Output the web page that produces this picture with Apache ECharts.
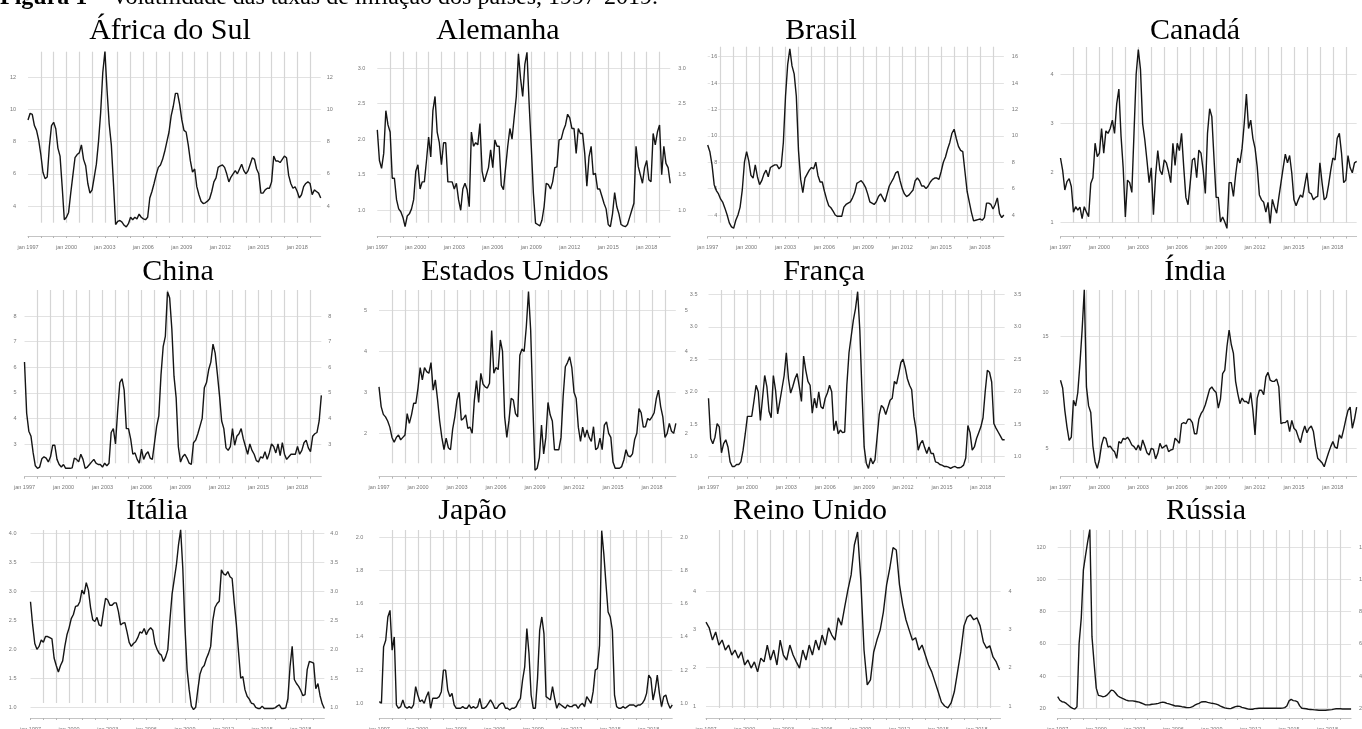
<!DOCTYPE html>
<html><head><meta charset="utf-8">
<script src="https://cdn.jsdelivr.net/npm/echarts@6/dist/echarts.min.js"></script>
<style>html,body{margin:0;padding:0;background:#fff;overflow:hidden}#c{width:1362px;height:729px}</style>
</head><body><div id="c"></div>
<script>
// ---------- DATA ----------
const startYear = 1997;
const monthStep = 2;            // one value every two months, from Jan 1997
const xEnd = 1997 + 274 / 12;   // Nov 2019
const yearLabels = [1997, 2000, 2003, 2006, 2009, 2012, 2015, 2018];
const countries = ['África do Sul','Alemanha','Brasil','Canadá','China','Estados Unidos','França','Índia','Itália','Japão','Reino Unido','Rússia'];
const figureTitleBold = 'Figura 1';
const figureTitleRest = ' – Volatilidade das taxas de inflação dos países, 1997-2019.';

const ticksAfricaDoSul = [4,6,8,10,12];
const ticksAlemanha = [1.0,1.5,2.0,2.5,3.0];
const ticksBrasil = [4,6,8,10,12,14,16];
const ticksCanada = [1,2,3,4];
const ticksChina = [3,4,5,6,7,8];
const ticksEstadosUnidos = [2,3,4,5];
const ticksFranca = [1.0,1.5,2.0,2.5,3.0,3.5];
const ticksIndia = [5,10,15];
const ticksItalia = [1.0,1.5,2.0,2.5,3.0,3.5,4.0];
const ticksJapao = [1.0,1.2,1.4,1.6,1.8,2.0];
const ticksReinoUnido = [1,2,3,4];
const ticksRussia = [20,40,60,80,100,120];

const africaDoSul = [9.35,9.76,9.7,9.0,8.7,8.1,7.2,6.1,5.7,5.8,7.7,9.0,9.2,8.8,7.6,7.1,5.2,3.15,3.3,3.6,4.8,5.9,7.0,7.2,7.3,7.8,6.9,6.5,5.4,4.8,5.0,5.8,6.6,8.0,9.8,12.3,13.6,11.2,9.1,7.8,5.4,2.85,3.05,3.1,3.0,2.8,2.7,2.9,3.3,3.15,3.3,3.2,3.5,3.3,3.2,3.15,3.3,4.5,4.9,5.4,5.95,6.4,6.55,6.9,7.4,8.0,8.6,9.6,10.2,11.0,11.0,10.3,9.35,8.7,8.6,7.8,6.8,6.1,6.3,5.2,4.7,4.3,4.15,4.2,4.3,4.45,4.9,5.5,5.75,6.4,6.5,6.55,6.4,6.0,5.5,5.8,6.0,6.2,6.0,6.3,6.6,6.2,6.0,6.2,6.6,7.0,6.9,6.3,6.0,4.8,4.8,5.0,5.1,5.1,5.5,7.1,6.8,6.8,6.7,6.9,7.1,7.0,5.9,5.4,5.1,5.2,4.9,4.5,4.7,5.2,5.4,5.5,5.4,4.7,5.0,4.9,4.8,4.5];
const alemanha = [2.13,1.7,1.59,1.8,2.4,2.2,2.1,1.45,1.45,1.15,1.02,0.98,0.9,0.77,0.92,0.95,1.02,1.15,1.55,1.64,1.3,1.4,1.4,1.7,2.03,1.75,2.4,2.6,2.1,1.95,1.64,1.95,1.95,1.4,1.4,1.4,1.3,1.38,1.15,1.0,1.3,1.38,1.29,1.05,2.1,1.9,1.95,1.92,2.22,1.55,1.4,1.5,1.6,1.85,1.6,1.99,1.9,1.9,1.35,1.29,1.6,1.9,2.15,2.0,2.3,2.6,3.2,2.85,2.6,3.05,3.22,2.5,1.9,1.24,0.82,0.8,0.78,0.86,1.05,1.38,1.36,1.3,1.4,1.6,1.61,1.99,2.0,2.12,2.2,2.35,2.3,2.15,2.15,1.8,2.15,2.08,2.08,1.8,1.34,1.75,1.9,1.5,1.52,1.3,1.3,1.2,1.1,1.02,0.8,0.77,0.95,1.25,1.05,0.95,0.8,0.78,0.77,0.8,0.9,1.0,1.1,1.9,1.62,1.5,1.38,1.6,1.7,1.43,1.4,2.08,1.92,2.1,2.2,1.5,1.9,1.66,1.6,1.38];
const brasil = [9.3,8.8,7.8,6.3,5.85,5.6,5.2,4.95,4.5,4.0,3.4,3.1,3.0,3.6,4.0,4.6,5.9,8.0,8.8,8.1,7.0,6.8,7.8,6.9,6.3,6.6,7.1,7.4,6.9,7.6,7.7,7.8,7.8,7.5,7.7,9.5,13.0,15.4,16.6,15.3,14.7,13.0,8.9,6.7,5.7,6.8,7.1,7.4,7.6,7.5,8.0,7.0,6.5,6.5,5.8,5.2,4.7,4.55,4.3,4.0,3.9,3.9,3.9,4.6,4.8,4.9,5.0,5.3,5.7,6.4,6.5,6.6,6.4,6.1,5.6,5.0,4.9,4.8,5.0,5.4,5.6,5.3,5.0,5.6,6.2,6.5,6.8,7.2,7.3,6.6,6.0,5.6,5.4,5.5,5.7,5.9,6.6,6.8,6.6,6.2,6.2,6.0,6.2,6.5,6.7,6.8,6.8,6.7,7.3,8.0,8.4,9.0,9.5,10.2,10.5,9.8,9.2,8.9,8.8,7.3,5.8,5.0,4.2,3.55,3.6,3.65,3.7,3.6,3.8,4.9,4.9,4.8,4.45,4.8,5.3,4.1,3.8,4.0];
const canada = [2.3,2.05,1.65,1.82,1.88,1.72,1.2,1.31,1.24,1.3,1.07,1.31,1.2,1.11,1.78,1.9,2.6,2.33,2.4,2.9,2.4,2.85,2.8,2.9,3.07,2.8,3.4,3.7,2.75,2.1,1.1,1.85,1.8,1.6,2.8,4.0,4.5,4.1,3.0,2.67,2.25,1.8,2.1,1.15,1.95,2.45,2.05,1.96,2.26,2.2,2.02,1.8,2.6,2.15,2.6,2.45,2.8,2.12,1.5,1.35,1.79,2.26,2.3,1.9,2.46,2.4,2.05,1.58,2.8,3.3,3.14,2.3,1.5,1.5,1.0,1.1,1.0,0.87,1.8,1.8,1.52,1.95,2.3,2.2,2.5,3.0,3.6,2.9,3.07,2.7,2.5,2.12,1.55,1.45,1.4,1.2,1.4,0.97,1.46,1.3,1.18,1.5,1.8,2.1,2.38,2.2,2.35,1.99,1.45,1.33,1.45,1.55,1.5,1.75,2.0,1.6,1.57,1.45,1.5,1.52,2.2,1.8,1.45,1.5,1.75,2.05,2.3,2.26,2.7,2.8,2.4,1.8,1.85,2.35,2.1,2.0,2.2,2.23];
const china = [6.2,4.2,3.5,3.3,2.65,2.15,2.05,2.1,2.42,2.5,2.45,2.3,2.5,2.95,2.95,2.4,2.2,2.1,2.2,2.05,2.05,2.05,2.07,2.45,2.4,2.3,2.6,2.4,2.05,2.1,2.2,2.3,2.4,2.25,2.2,2.2,2.1,2.25,2.15,2.25,3.45,3.6,3.0,4.3,5.4,5.55,5.1,3.6,3.6,3.2,2.6,2.65,2.4,2.25,2.8,2.4,2.6,2.7,2.45,2.4,3.05,3.7,4.1,5.7,6.8,7.2,8.95,8.7,7.5,5.65,4.8,2.9,2.3,2.5,2.6,2.45,2.25,2.2,3.05,3.15,3.4,3.7,4.0,5.2,5.4,5.9,6.2,6.9,6.55,5.75,4.9,3.9,3.6,2.85,2.75,2.9,3.6,2.95,3.3,3.4,3.6,3.2,2.9,2.6,3.0,2.75,2.6,2.35,2.3,2.5,2.45,2.7,2.4,2.65,3.0,2.9,2.65,3.0,2.55,3.05,2.6,2.4,2.5,2.6,2.6,2.6,2.9,2.6,2.75,3.05,3.15,2.85,2.7,3.3,3.4,3.45,3.9,4.9];
const estadosUnidos = [3.13,2.65,2.46,2.4,2.3,2.15,1.9,1.78,1.9,1.96,1.84,1.9,1.96,2.48,2.24,2.45,2.73,2.73,3.1,3.6,3.3,3.6,3.5,3.46,3.72,3.05,3.3,2.83,2.3,1.9,1.6,1.88,1.65,1.6,2.1,2.4,2.81,3.0,2.32,2.36,2.45,2.12,2.15,2.0,2.8,3.28,2.75,3.46,3.2,3.13,3.1,3.22,4.5,3.46,3.6,3.55,4.27,4.0,2.4,1.9,2.32,2.85,2.81,2.48,2.4,3.9,4.05,3.99,4.6,5.45,4.51,2.7,1.1,1.15,1.4,2.2,1.5,1.9,2.75,2.45,2.3,1.6,1.6,1.6,1.9,2.9,3.62,3.72,3.86,3.6,3.0,2.85,2.15,1.8,2.15,1.9,2.08,1.9,1.8,2.16,1.6,1.65,1.88,1.6,2.2,2.28,2.0,1.9,1.3,1.15,1.15,1.15,1.19,1.35,1.6,1.45,1.43,1.5,1.85,2.0,2.6,2.5,2.15,2.16,2.36,2.32,2.4,2.5,2.85,3.05,2.65,2.4,1.9,2.0,2.24,2.05,2.0,2.24];
const franca = [1.9,1.28,1.2,1.3,1.51,1.46,1.06,1.2,1.26,1.15,0.92,0.85,0.85,0.88,0.88,0.92,1.1,1.35,1.62,1.62,1.62,1.85,2.1,2.0,1.56,1.9,2.25,2.08,1.7,1.6,2.25,2.03,1.66,1.85,2.05,2.25,2.6,2.2,1.98,2.08,2.2,2.28,2.08,1.85,2.55,2.33,2.16,2.1,1.67,1.9,1.75,2.0,1.77,1.74,1.9,1.98,2.1,2.0,1.4,1.55,1.35,1.41,1.37,1.38,2.1,2.6,2.85,3.1,3.28,3.54,2.95,2.0,1.15,0.9,0.82,0.98,0.89,0.95,1.3,1.65,1.79,1.75,1.65,1.76,1.87,1.9,2.16,2.12,2.28,2.45,2.5,2.37,2.2,2.1,2.03,1.62,1.42,1.1,1.2,1.25,1.14,1.05,1.15,1.05,1.05,0.92,0.91,0.88,0.87,0.85,0.85,0.84,0.82,0.84,0.85,0.83,0.83,0.84,0.87,0.98,1.48,1.37,1.1,1.15,1.28,1.37,1.46,1.6,2.0,2.33,2.3,2.15,1.51,1.44,1.38,1.32,1.26,1.26];
const india = [11.1,10.4,8.4,6.9,5.7,6.0,9.3,8.8,10.0,12.6,15.6,19.2,10.5,8.8,8.2,5.2,3.8,3.2,4.0,5.3,6.0,5.9,5.1,5.2,4.9,4.7,4.1,5.6,5.45,5.9,5.8,6.0,5.7,5.3,5.15,4.85,5.3,4.8,5.75,5.2,4.6,4.4,5.0,4.9,4.05,4.55,5.45,5.0,5.15,5.3,4.7,4.85,4.9,5.9,5.7,5.45,7.2,7.3,7.2,7.6,7.6,7.3,6.3,6.3,7.6,8.1,8.4,8.9,9.6,10.3,10.5,10.2,10.0,8.6,9.4,11.7,12.0,14.1,15.6,14.3,13.5,11.0,9.9,9.0,9.5,9.2,9.2,9.0,10.0,8.4,6.2,9.5,10.2,10.2,9.8,11.4,11.8,11.1,11.0,11.0,11.2,10.5,7.2,7.3,7.3,7.5,6.5,7.5,6.8,6.6,6.0,5.5,6.4,7.0,6.4,6.8,7.0,6.5,5.15,4.1,3.9,3.7,3.35,4.0,4.6,5.15,5.6,5.1,5.0,6.2,5.9,6.7,7.6,8.4,8.7,6.8,7.6,8.7];
const italia = [2.82,2.42,2.1,2.0,2.05,2.16,2.12,2.22,2.22,2.2,2.18,1.85,1.72,1.61,1.72,1.8,2.05,2.25,2.37,2.53,2.6,2.74,2.75,2.82,3.02,2.95,3.15,3.02,2.72,2.51,2.48,2.55,2.42,2.4,2.65,2.88,2.85,2.76,2.76,2.8,2.8,2.65,2.42,2.45,2.46,2.3,2.12,2.05,2.1,2.13,2.2,2.3,2.28,2.36,2.25,2.33,2.37,2.33,2.1,2.0,1.93,1.9,1.79,1.87,1.99,2.5,2.95,3.2,3.45,3.8,4.06,3.4,2.39,1.65,1.3,1.02,0.96,1.0,1.3,1.57,1.68,1.72,1.84,1.93,2.05,2.5,2.72,2.79,2.83,3.37,3.3,3.28,3.34,3.25,3.22,2.8,2.42,1.95,1.5,1.53,1.3,1.19,1.14,1.07,1.06,1.0,0.98,0.98,1.02,0.98,0.98,0.98,0.98,0.98,0.99,1.02,1.04,0.98,0.98,0.99,1.15,1.7,2.05,1.48,1.41,1.36,1.29,1.2,1.22,1.65,1.79,1.78,1.76,1.32,1.41,1.2,1.06,0.98];
const japao = [1.01,1.0,1.34,1.38,1.52,1.56,1.32,1.4,0.99,0.97,0.98,1.02,0.98,0.97,0.98,0.97,0.99,1.1,1.05,1.01,1.02,1.0,1.04,1.07,0.97,1.03,1.03,1.03,1.04,1.07,1.2,1.2,1.08,1.04,1.06,0.99,0.97,0.97,0.97,0.98,0.97,0.97,0.99,0.97,0.98,0.97,0.98,1.03,0.97,0.97,0.98,1.0,1.02,1.0,0.97,0.97,0.99,1.0,1.0,0.97,0.97,0.96,0.97,0.97,0.98,1.01,1.03,1.14,1.22,1.45,1.3,1.05,0.97,0.97,1.15,1.44,1.52,1.42,1.04,1.03,1.02,1.1,1.03,0.97,1.0,0.99,0.98,0.97,0.99,0.98,0.98,0.99,0.99,0.97,0.99,1.0,0.98,1.04,1.02,1.0,1.07,1.2,1.21,1.35,2.04,1.9,1.72,1.55,1.52,1.44,1.05,0.98,0.97,0.97,0.98,0.97,0.98,0.99,0.99,0.99,0.98,0.99,0.99,1.0,1.02,1.06,1.17,1.15,1.02,1.08,1.17,1.06,0.98,1.04,1.05,1.0,0.97,0.99];
const reinoUnidoStep = 3;   // quarterly readings
const reinoUnido = [3.19,3.04,2.72,2.93,2.59,2.72,2.46,2.59,2.33,2.46,2.25,2.41,2.07,2.2,1.99,2.15,1.89,2.25,2.15,2.59,2.2,2.46,2.07,2.72,2.33,2.2,2.59,2.33,2.15,1.99,2.46,2.2,2.59,2.33,2.72,2.46,2.85,2.59,3.04,2.85,2.72,3.3,3.11,3.58,4.03,4.42,5.2,5.54,4.29,2.46,1.55,1.68,2.41,2.72,2.98,3.45,4.16,4.6,5.13,5.07,4.16,3.64,3.25,2.98,2.72,2.78,2.46,2.59,2.33,2.07,1.89,1.63,1.37,1.1,1.0,0.95,1.08,1.37,1.89,2.41,3.09,3.32,3.38,3.25,3.3,3.09,2.67,2.51,2.57,2.28,2.15,1.94];
const russia = [27.2,25.0,24.1,23.8,23.0,21.9,20.7,20.0,19.5,21.0,60.4,76,106,115,123.5,131,64.5,48,32.5,28.0,27.7,27.2,27.4,28.2,29.7,31.3,31.0,29.5,27.8,27.0,26.3,25.7,25.1,24.7,24.6,24.6,24.4,24.1,23.8,23.3,22.8,22.1,22.1,22.2,22.5,22.6,22.8,23.1,23.5,23.8,23.6,23.1,22.7,22.3,21.9,21.4,21.4,21.3,21.0,20.8,20.5,20.4,20.6,21.0,21.9,22.6,23.1,23.9,24.1,24.1,23.7,23.4,23.1,22.9,22.6,22.1,21.4,20.8,20.3,20.0,19.8,19.9,20.5,21.0,21.3,21.2,20.6,20.3,19.9,19.5,19.4,19.4,19.8,19.9,20.0,20.0,20.0,20.0,20.0,20.0,20.0,20.0,20.0,20.0,20.0,20.1,20.4,21.4,24.6,25.5,24.8,24.6,24.0,21.5,20.0,19.9,19.7,19.4,19.3,19.2,19.0,18.9,18.8,18.8,18.8,18.8,18.9,19.0,19.2,19.5,19.7,19.8,19.7,19.6,19.6,19.6,19.6,19.6];

const seriesValues = [africaDoSul, alemanha, brasil, canada, china, estadosUnidos, franca, india, italia, japao, reinoUnido, russia];
const seriesSteps = [monthStep, monthStep, monthStep, monthStep, monthStep, monthStep, monthStep, monthStep, monthStep, monthStep, reinoUnidoStep, monthStep];
const seriesTicks = [ticksAfricaDoSul, ticksAlemanha, ticksBrasil, ticksCanada, ticksChina, ticksEstadosUnidos, ticksFranca, ticksIndia, ticksItalia, ticksJapao, ticksReinoUnido, ticksRussia];

// ---------- LAYOUT (pixels) ----------
const layout = [
  {x0:28.0,  ppy:12.82, tTop:77.3,  tBot:206.0, vTop:51.7, vBot:222.7, axisY:236,   lm:12, rm:6, tx:170,  ty:31},
  {x0:377.3, ppy:12.83, tTop:68.0,  tBot:210.3, vTop:51.7, vBot:222.7, axisY:236,   lm:12, rm:8, tx:498,  ty:31},
  {x0:707.7, ppy:12.97, tTop:56.7,  tBot:215.0, vTop:46.7, vBot:222.7, axisY:236.5, lm:-10.5, rm:8, tx:821, ty:31, inner:true},
  {x0:1060.5,ppy:12.97, tTop:74.3,  tBot:222.0, vTop:47.0, vBot:222.7, axisY:236.5, lm:7,  rm:8, tx:1195, ty:31},
  {x0:24.5,  ppy:13.0,  tTop:316.0, tBot:444.0, vTop:290,  vBot:463.3, axisY:476.7, lm:8,  rm:7, tx:178,  ty:272},
  {x0:379.0, ppy:13.0,  tTop:310.0, tBot:433.3, vTop:290,  vBot:463.3, axisY:476.7, lm:12, rm:9, tx:515,  ty:272},
  {x0:708.5, ppy:12.97, tTop:294.3, tBot:456.7, vTop:290,  vBot:463,   axisY:476.7, lm:11, rm:9, tx:824,  ty:272},
  {x0:1060.5,ppy:12.97, tTop:336.7, tBot:448.3, vTop:290,  vBot:463,   axisY:476.7, lm:12, rm:8, tx:1195, ty:272},
  {x0:30.5,  ppy:12.87, tTop:533.3, tBot:707.3, vTop:530,  vBot:703,   axisY:718,   lm:14, rm:6, tx:157,  ty:511},
  {x0:379.3, ppy:12.83, tTop:537.3, tBot:703.3, vTop:530,  vBot:708,   axisY:718,   lm:16, rm:8, tx:472.5,ty:511},
  {x0:706.0, ppy:12.9,  tTop:591.0, tBot:706.0, vTop:530,  vBot:708,   axisY:718,   lm:10, rm:8, tx:810,  ty:511},
  {x0:1057.7,ppy:12.85, tTop:547.3, tBot:708.3, vTop:530,  vBot:708,   axisY:718,   lm:12, rm:8, tx:1206, ty:511}
];

const GRID_V = '#d5d5d5', GRID_H = '#e2e2e2', LABEL = '#777', LINE = '#151515';
const labelFont = {fontSize:5.5, color:LABEL, fontFamily:'Liberation Sans'};

const option = {animation:false, backgroundColor:'#fff', grid:[], xAxis:[], yAxis:[], series:[], graphic:[]};

seriesValues.forEach((vals, k) => {
  const L = layout[k];
  const t = seriesTicks[k];
  const iv = +(t[1] - t[0]).toFixed(6);
  const yMin = +(t[0] - iv).toFixed(6), yMax = +(t[t.length - 1] + iv).toFixed(6);
  const ppu = (L.tBot - L.tTop) / (t[t.length - 1] - t[0]);
  const gTop = L.tTop - iv * ppu;
  const gH = (yMax - yMin) * ppu;
  const gW = (xEnd - startYear) * L.ppy;
  const dec = iv < 1 ? 1 : 0;
  const gA = option.grid.length;
  option.grid.push({left:L.x0, top:gTop, width:gW, height:gH, containLabel:false, outerBoundsMode:'none'});
  option.grid.push({left:L.x0, top:L.vTop, width:gW, height:L.vBot - L.vTop, containLabel:false, outerBoundsMode:'none'});
  const xA = option.xAxis.length;
  option.xAxis.push({gridIndex:gA, type:'value', min:startYear, max:xEnd, show:false});
  option.xAxis.push({
    gridIndex:gA + 1, type:'value', min:startYear, max:xEnd, interval:1, position:'bottom',
    offset:L.axisY - L.vBot,
    axisLine:{show:true, onZero:false, lineStyle:{color:'#c4c4c4', width:1}},
    axisTick:{show:true, length:2, lineStyle:{color:'#b5b5b5', width:1}},
    splitLine:{show:true, showMinLine:false, showMaxLine:false, lineStyle:{color:GRID_V, width:1.2}},
    axisLabel:Object.assign({margin:8, showMinLabel:true, showMaxLabel:false,
      formatter:v => { const r = Math.round(v); return (Math.abs(v - r) < 1e-6 && yearLabels.includes(r)) ? 'jan ' + r : ''; }}, labelFont)
  });
  const yA = option.yAxis.length;
  const yCommon = {type:'value', min:yMin, max:yMax, interval:iv, axisLine:{show:false}, axisTick:{show:false}};
  const leftLabel = Object.assign({margin:L.lm, showMinLabel:false, showMaxLabel:false, formatter:v => v.toFixed(dec)}, labelFont);
  if (L.inner) Object.assign(leftLabel, {backgroundColor:'#fff', padding:[0, 1]});
  option.yAxis.push(Object.assign({gridIndex:gA, position:'left',
    splitLine:{show:true, showMinLine:false, showMaxLine:false, lineStyle:{color:GRID_H, width:1}},
    axisLabel:leftLabel}, yCommon));
  option.yAxis.push(Object.assign({gridIndex:gA, position:'right', splitLine:{show:false},
    axisLabel:Object.assign({margin:L.rm, showMinLabel:false, showMaxLabel:false, formatter:v => v.toFixed(dec)}, labelFont)}, yCommon));
  option.yAxis.push({gridIndex:gA + 1, type:'value', min:0, max:1, show:false});

  const step = seriesSteps[k];
  option.series.push({
    type:'line', xAxisIndex:xA, yAxisIndex:yA, symbol:'none', silent:true, clip:false,
    lineStyle:{color:LINE, width:1.4}, z:5,
    data:vals.map((v, i) => [startYear + i * step / 12, v])
  });
  option.graphic.push({type:'text', x:L.tx, y:L.ty, silent:true,
    style:{text:countries[k], font:'30px "Liberation Serif"', fill:'#000',
      align:'center', textAlign:'center', verticalAlign:'middle', textVerticalAlign:'middle'}});
});

option.graphic.push({type:'text', x:0, y:-2, silent:true,
  style:{text:'{b|' + figureTitleBold + '}' + figureTitleRest, font:'24px "Liberation Serif"', fill:'#000',
    align:'left', textAlign:'left', verticalAlign:'middle', textVerticalAlign:'middle',
    rich:{b:{fontWeight:'bold', fontSize:24, fontFamily:'Liberation Serif'}}}});

const chart = echarts.init(document.getElementById('c'), null, {renderer:'canvas'});
chart.setOption(option);
</script>
</body></html>
